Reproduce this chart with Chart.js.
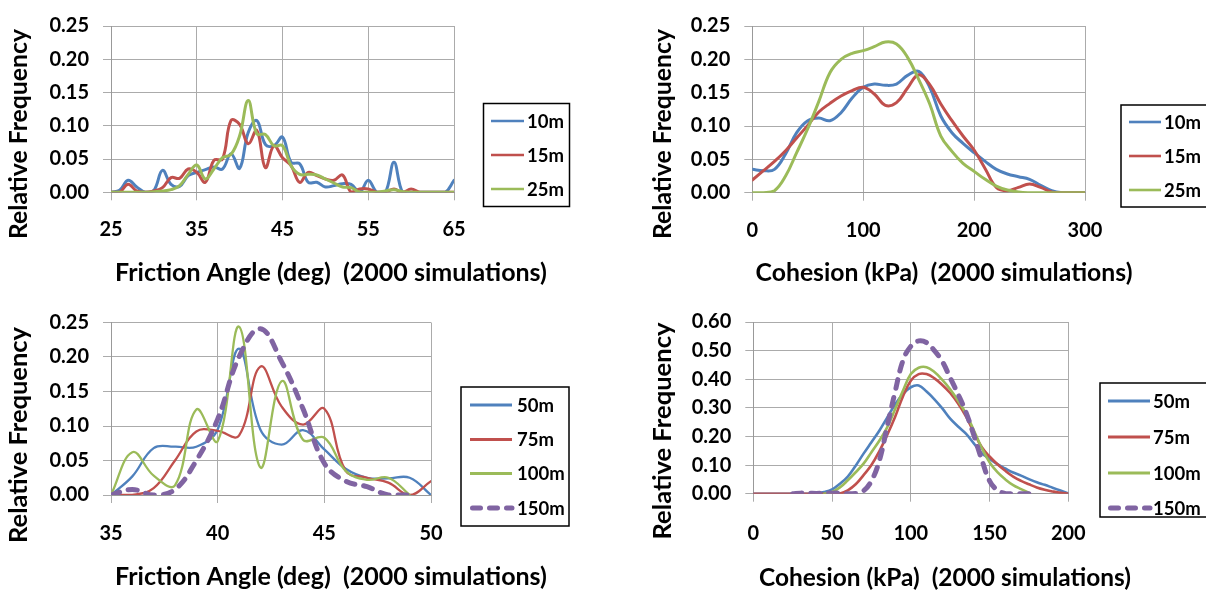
<!DOCTYPE html>
<html><head><meta charset="utf-8">
<script src="https://cdn.jsdelivr.net/npm/chart.js@4.4.0/dist/chart.umd.min.js"></script>
<style>
html,body{margin:0;padding:0;background:#fff;}
#wrap{position:relative;width:1206px;height:592px;overflow:hidden;background:#fff;}
canvas{position:absolute;}
</style></head><body>
<div id="wrap">
<canvas id="c1" width="603" height="296" style="left:0;top:0"></canvas>
<canvas id="c2" width="603" height="296" style="left:603px;top:0"></canvas>
<canvas id="c3" width="603" height="296" style="left:0;top:296px"></canvas>
<canvas id="c4" width="603" height="296" style="left:603px;top:296px"></canvas>
</div>
<script>
// ---------- DATA ----------
// Panel 1: friction angle, shallow depths
const frictionA = [25,26,27,28,29,30,31,32,33,34,35,36,37,38,39,40,41,42,43,44,45,46,47,48,49,50,51,52,53,54,55,56,57,58,59,60,61,62,63,64,65];
const friction10m = [0,0.003,0.018,0.008,0,0.003,0.033,0.012,0.009,0.025,0.030,0.034,0.038,0.035,0.058,0.036,0.090,0.108,0.072,0.070,0.083,0.045,0.043,0.015,0.015,0.008,0.010,0.013,0.012,0,0.018,0,0,0.045,0,0,0,0,0,0,0.018];
const friction15m = [0,0,0.012,0.002,0,0.002,0.007,0.022,0.021,0.035,0.030,0.015,0.048,0.050,0.108,0.102,0.073,0.093,0.037,0.070,0.052,0.040,0.015,0.030,0.025,0.020,0.018,0.026,0,0.005,0.005,0,0,0.005,0,0.005,0,0,0,0,0];
const friction25m = [0,0,0,0,0,0.001,0.002,0.004,0.010,0.027,0.041,0.020,0.035,0.052,0.057,0.085,0.138,0.088,0.087,0.070,0.070,0.040,0.027,0.027,0.026,0.020,0.014,0.008,0.007,0,0,0,0.002,0.004,0.001,0,0,0,0,0,0];
const frictionATicks = [25,35,45,55,65];
const frictionATickLabels = ['25','35','45','55','65'];

// Panel 2: cohesion, shallow depths
const cohesionA = [0,10,20,30,40,50,60,70,80,90,100,110,120,130,140,150,160,170,180,190,200,210,220,230,240,250,260,270,280,290,300];
const cohesion10m = [0.035,0.033,0.035,0.058,0.090,0.108,0.112,0.108,0.120,0.142,0.158,0.163,0.161,0.163,0.176,0.182,0.158,0.115,0.090,0.074,0.060,0.047,0.035,0.028,0.024,0.020,0.011,0.003,0,0,0];
const cohesion15m = [0.019,0.033,0.047,0.063,0.082,0.101,0.121,0.134,0.145,0.153,0.158,0.148,0.131,0.135,0.157,0.177,0.162,0.133,0.108,0.085,0.064,0.036,0.008,0.003,0.008,0.013,0.008,0.001,0,0,0];
const cohesion25m = [0,0,0.003,0.025,0.060,0.096,0.137,0.180,0.200,0.209,0.213,0.219,0.226,0.223,0.203,0.170,0.133,0.085,0.062,0.044,0.032,0.020,0.010,0.004,0.001,0,0,0,0,0,0];
const cohesionATicks = [0,100,200,300];
const cohesionATickLabels = ['0','100','200','300'];

// Panel 3: friction angle, deeper
const frictionB = [35,36,37,38,39,40,41,42,43,44,45,46,47,48,49,50];
const friction50m  = [0,0.027,0.068,0.070,0.070,0.095,0.212,0.095,0.073,0.094,0.066,0.038,0.025,0.024,0.025,0];
const friction75m  = [0,0,0.010,0.050,0.092,0.093,0.086,0.186,0.128,0.102,0.125,0.035,0.025,0.018,0,0.020];
const friction100m = [0,0.062,0.028,0.014,0.124,0.078,0.244,0.040,0.165,0.080,0.083,0.035,0.022,0.025,0,null];
const friction150m = [0,0.008,0,0.008,0.050,0.110,0.200,0.241,0.193,0.125,0.046,0.020,0.012,0,0,null];
const frictionBTicks = [35,40,45,50];
const frictionBTickLabels = ['35','40','45','50'];

// Panel 4: cohesion, deeper
const cohesionB = [0,5,10,15,20,25,30,35,40,45,50,55,60,65,70,75,80,85,90,95,100,105,110,115,120,125,130,135,140,145,150,155,160,165,170,175,180,185,190,195,200];
const cohesion50m  = [0,0,0,0,0,0,0,0,0.002,0.006,0.015,0.035,0.060,0.098,0.140,0.180,0.220,0.266,0.312,0.348,0.372,0.378,0.357,0.330,0.298,0.262,0.235,0.210,0.176,0.142,0.122,0.103,0.088,0.074,0.063,0.051,0.040,0.031,0.021,0.011,0.001];
const cohesion75m  = [0,0,0,0,0,0,0,0,0,0,0,0.001,0.012,0.033,0.065,0.100,0.148,0.205,0.268,0.340,0.395,0.418,0.418,0.403,0.380,0.352,0.315,0.270,0.215,0.163,0.130,0.103,0.080,0.060,0.045,0.033,0.022,0.014,0.008,0.003,0];
const cohesion100m = [null,null,null,null,null,null,null,null,null,0,0.006,0.022,0.047,0.075,0.105,0.145,0.185,0.232,0.295,0.360,0.418,0.440,0.442,0.425,0.398,0.365,0.325,0.280,0.222,0.160,0.110,0.075,0.050,0.030,0.016,0.003,null,null,null,null,null];
const cohesion150m = [null,null,null,null,null,0,0.002,0.002,0.001,0.002,0.002,0.002,0,0.001,0.010,0.045,0.115,0.235,0.355,0.465,0.515,0.534,0.528,0.500,0.462,0.405,0.348,0.285,0.205,0.120,0.045,0.012,0.001,0,0,0,null,null,null,null,null];
const cohesionBTicks = [0,50,100,150,200];
const cohesionBTickLabels = ['0','50','100','150','200'];

const freqTicks25 = [0,0.05,0.10,0.15,0.20,0.25];
const freqTickLabels25 = ['0.00','0.05','0.10','0.15','0.20','0.25'];
const freqTicks60 = [0,0.1,0.2,0.3,0.4,0.5,0.6];
const freqTickLabels60 = ['0.00','0.10','0.20','0.30','0.40','0.50','0.60'];

const namesA = ['10m','15m','25m'];
const namesB = ['50m','75m','100m','150m'];
const yTitle = 'Relative Frequency';
const xTitleFriction = 'Friction Angle (deg)  (2000 simulations)';
const xTitleCohesion = 'Cohesion (kPa)  (2000 simulations)';

// ---------- STYLE ----------
const BLUE='#4F81BD', RED='#C0504D', GREEN='#9BBB59', PURPLE='#8064A2';
const GRID='#ababab';
const FONT='Lato';
const W=603, H=296;

function fitSize(ctx, text, width){
  ctx.font = 'bold 100px ' + FONT;
  return 100 * width / ctx.measureText(text).width;
}

function decorPlugin(conf){
  return {
    id: 'decor' + conf.id,
    afterDraw(chart){
      const c = chart.ctx;
      c.save();
      c.fillStyle = '#000';
      c.textAlign = 'center'; c.textBaseline = 'middle';
      let fs = fitSize(c, conf.xTitle, conf.xTitleW);
      c.font = 'bold ' + fs + 'px ' + FONT;
      c.fillText(conf.xTitle, conf.xTitleX, conf.xTitleY);
      fs = fitSize(c, conf.yTitle, conf.yTitleW);
      c.font = 'bold ' + fs + 'px ' + FONT;
      c.translate(conf.yTitleX, conf.yTitleY);
      c.rotate(-Math.PI/2);
      c.fillText(conf.yTitle, 0, 0);
      c.restore();
      // legend
      const L = conf.legend;
      c.save();
      c.strokeStyle = '#000'; c.lineWidth = 1.5;
      c.strokeRect(L.x, L.y, L.w, L.h);
      chart.data.datasets.forEach((ds, i) => {
        const ry = L.rows[i];
        c.beginPath();
        c.strokeStyle = ds.borderColor;
        c.lineWidth = ds.legendWidth;
        c.lineCap = ds.borderDash.length ? 'round' : 'butt';
        c.setLineDash(ds.borderDash.length ? [8, 9] : []);
        c.moveTo(L.lx0 + (ds.borderDash.length ? 2.5 : 0), ry);
        c.lineTo(L.lx1, ry);
        c.stroke();
        c.setLineDash([]);
        c.fillStyle = '#000';
        c.font = 'bold 18.5px ' + FONT;
        c.textAlign = 'left'; c.textBaseline = 'middle';
        c.fillText(ds.label, L.tx, ry + 1);
      });
      c.restore();
    }
  };
}

function makePanel(p){
  const n = p.series.length;
  const datasets = p.series.map((s, i) => ({
    label: s.name,
    data: p.x.map((xv, j) => ({x: xv, y: s.values[j]})),
    borderColor: s.color,
    borderWidth: s.width,
    legendWidth: s.legendWidth || s.width,
    borderDash: s.dash || [],
    borderCapStyle: 'round',
    borderJoinStyle: 'round',
    pointRadius: 0,
    tension: 0.4,
    fill: false,
    spanGaps: false,
    order: n - i
  }));
  const tickFont = {family: FONT, size: 20, weight: 'bold'};
  new Chart(document.getElementById(p.id), {
    type: 'line',
    data: {datasets},
    options: {
      responsive: false, animation: false, devicePixelRatio: 1,
      events: [],
      layout: {padding: {left: 0, top: p.area.top, right: W - p.area.right, bottom: 0}},
      plugins: {legend: {display: false}, tooltip: {enabled: false}},
      scales: {
        x: {
          type: 'linear', min: p.xTicks[0], max: p.xTicks[p.xTicks.length-1],
          afterBuildTicks: sc => { sc.ticks = p.xTicks.map(v => ({value: v})); },
          afterFit: sc => { sc.height = H - p.area.bottom; },
          grid: {color: GRID, lineWidth: 1, tickLength: 8, drawTicks: true},
          border: {color: '#999', width: 1},
          ticks: {font: tickFont, color: '#000', padding: p.xPad, maxRotation: 0, autoSkip: false,
                  callback: (v, i) => p.xLabels[i]}
        },
        y: {
          type: 'linear', min: p.yTicks[0], max: p.yTicks[p.yTicks.length-1],
          afterBuildTicks: sc => { sc.ticks = p.yTicks.map(v => ({value: v})); },
          afterFit: sc => { sc.width = p.area.left; },
          grid: {color: GRID, lineWidth: 1, tickLength: 8, drawTicks: true},
          border: {color: '#999', width: 1},
          ticks: {font: tickFont, color: '#000', padding: 14, autoSkip: false,
                  callback: (v, i) => p.yLabels[i]}
        }
      }
    },
    plugins: [decorPlugin(p.decor)]
  });
}

makePanel({
  id: 'c1', x: frictionA, xTicks: frictionATicks, xLabels: frictionATickLabels,
  yTicks: freqTicks25, yLabels: freqTickLabels25, xPad: 17.5,
  area: {left: 111, right: 454, top: 24, bottom: 192.3},
  series: [
    {name: namesA[0], values: friction10m, color: BLUE, width: 3, legendWidth: 2.6},
    {name: namesA[1], values: friction15m, color: RED, width: 3, legendWidth: 2.6},
    {name: namesA[2], values: friction25m, color: GREEN, width: 3, legendWidth: 2.6}
  ],
  decor: {id: 1, xTitle: xTitleFriction, xTitleW: 432, xTitleX: 331, xTitleY: 273,
          yTitle: yTitle, yTitleW: 210, yTitleX: 19, yTitleY: 134,
          legend: {x: 483.5, y: 103.5, w: 86, h: 103, lx0: 491, lx1: 524, tx: 527, rows: [121, 155, 189]}}
});

makePanel({
  id: 'c2', x: cohesionA, xTicks: cohesionATicks, xLabels: cohesionATickLabels,
  yTicks: freqTicks25, yLabels: freqTickLabels25, xPad: 18,
  area: {left: 149.3, right: 482, top: 25, bottom: 192.7},
  series: [
    {name: namesA[0], values: cohesion10m, color: BLUE, width: 3, legendWidth: 2.6},
    {name: namesA[1], values: cohesion15m, color: RED, width: 3, legendWidth: 2.6},
    {name: namesA[2], values: cohesion25m, color: GREEN, width: 3, legendWidth: 2.6}
  ],
  decor: {id: 2, xTitle: xTitleCohesion, xTitleW: 377, xTitleX: 341, xTitleY: 273,
          yTitle: yTitle, yTitleW: 210, yTitleX: 60, yTitleY: 134,
          legend: {x: 518, y: 105, w: 100, h: 102, lx0: 526, lx1: 558, tx: 561, rows: [122, 156, 190]}}
});

makePanel({
  id: 'c3', x: frictionB, xTicks: frictionBTicks, xLabels: frictionBTickLabels,
  yTicks: freqTicks25, yLabels: freqTickLabels25, xPad: 19,
  area: {left: 111, right: 431, top: 26.5, bottom: 199},
  series: [
    {name: namesB[0], values: friction50m, color: BLUE, width: 2.3, legendWidth: 3},
    {name: namesB[1], values: friction75m, color: RED, width: 2.3, legendWidth: 3},
    {name: namesB[2], values: friction100m, color: GREEN, width: 2.3, legendWidth: 3},
    {name: namesB[3], values: friction150m, color: PURPLE, width: 5, dash: [9, 9]}
  ],
  decor: {id: 3, xTitle: xTitleFriction, xTitleW: 432, xTitleX: 331, xTitleY: 281,
          yTitle: yTitle, yTitleW: 216, yTitleX: 19, yTitleY: 139,
          legend: {x: 461, y: 91, w: 108, h: 139, lx0: 470, lx1: 512, tx: 517, rows: [109, 143.5, 177.5, 212]}}
});

makePanel({
  id: 'c4', x: cohesionB, xTicks: cohesionBTicks, xLabels: cohesionBTickLabels,
  yTicks: freqTicks60, yLabels: freqTickLabels60, xPad: 19.5,
  area: {left: 150.3, right: 465.3, top: 20.7, bottom: 197.7},
  series: [
    {name: namesB[0], values: cohesion50m, color: BLUE, width: 2.6, legendWidth: 3},
    {name: namesB[1], values: cohesion75m, color: RED, width: 2.6, legendWidth: 3},
    {name: namesB[2], values: cohesion100m, color: GREEN, width: 2.6, legendWidth: 3},
    {name: namesB[3], values: cohesion150m, color: PURPLE, width: 5, dash: [9, 9]}
  ],
  decor: {id: 4, xTitle: xTitleCohesion, xTitleW: 372, xTitleX: 342, xTitleY: 282,
          yTitle: yTitle, yTitleW: 217, yTitleX: 60, yTitleY: 135,
          legend: {x: 497, y: 87, w: 120, h: 134, lx0: 505, lx1: 547, tx: 550, rows: [105, 141, 177, 212]}}
});
</script>
</body></html>
